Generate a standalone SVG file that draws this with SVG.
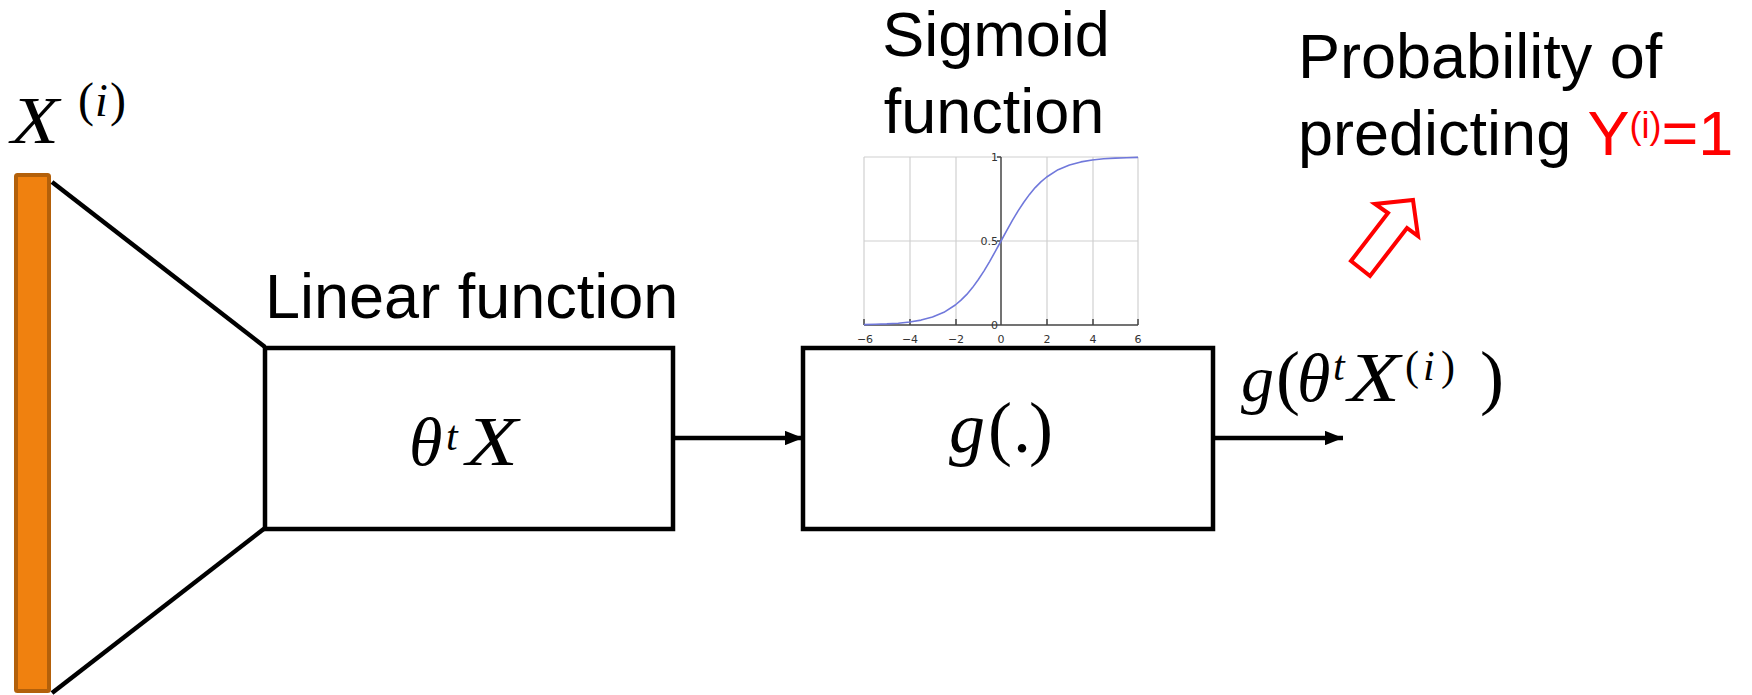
<svg xmlns="http://www.w3.org/2000/svg" width="1752" height="695" viewBox="0 0 1752 695">
<style>
.lbl{font-family:"Liberation Sans",Arial,sans-serif;font-size:63px;fill:#000}
.m{font-family:"Liberation Serif","Times New Roman",serif;fill:#000}
.mi{font-style:italic}
.box{fill:#fff;stroke:#000;stroke-width:4.5}
.edge{stroke:#000;stroke-width:4.5;fill:none}
.grid{stroke:#d0d0d0;stroke-width:1.2}
.ax{stroke:#444;stroke-width:1.5}
.tick{font-family:"DejaVu Sans",sans-serif;font-size:11px;fill:#333}
</style>
<defs>
<marker id="ah" viewBox="0 0 10 10" refX="10" refY="5" markerWidth="4" markerHeight="3.2" markerUnits="strokeWidth" orient="auto" preserveAspectRatio="none">
<path d="M0,0 L10,5 L0,10 z" fill="#000"/>
</marker>
</defs>
<g id="input">
<rect x="16" y="175" width="33" height="516" rx="1.5" fill="#F0810F" stroke="#B3600A" stroke-width="4"/>
<text class="m mi" x="11" y="143" font-size="68" textLength="48" lengthAdjust="spacingAndGlyphs">X</text>
<text class="m" x="78" y="116" font-size="48">(</text>
<text class="m mi" x="95" y="116" font-size="46">i</text>
<text class="m" x="110" y="116" font-size="48">)</text>
</g>
<g id="connectors">
<line class="edge" x1="52" y1="182" x2="265" y2="347"/>
<line class="edge" x1="52" y1="693" x2="265" y2="528"/>
<line class="edge" x1="673" y1="438" x2="803" y2="438" marker-end="url(#ah)"/>
<line class="edge" x1="1213" y1="438" x2="1343" y2="438" marker-end="url(#ah)"/>
</g>
<g id="linear">
<rect class="box" x="265" y="348" width="408" height="181"/>
<text class="lbl" x="265" y="318">Linear function</text>
<text class="m mi" x="409" y="465" font-size="68">θ</text>
<text class="m mi" x="446" y="450" font-size="42">t</text>
<text class="m mi" x="466" y="465" font-size="70" textLength="52" lengthAdjust="spacingAndGlyphs">X</text>
</g>
<g id="sigmoid">
<rect class="box" x="803" y="348" width="410" height="181"/>
<text class="m mi" x="949" y="452" font-size="72">g</text>
<text class="m" x="988" y="452" font-size="72">(</text>
<text class="m" x="1013" y="452" font-size="72">.</text>
<text class="m" x="1029" y="452" font-size="72">)</text>
<text class="lbl" x="996" y="56" text-anchor="middle">Sigmoid</text>
<text class="lbl" x="994" y="133" text-anchor="middle">function</text>
<g id="plot">
<g class="grid">
<line x1="864" y1="157" x2="864" y2="325"/>
<line x1="910" y1="157" x2="910" y2="325"/>
<line x1="956" y1="157" x2="956" y2="325"/>
<line x1="1047" y1="157" x2="1047" y2="325"/>
<line x1="1093" y1="157" x2="1093" y2="325"/>
<line x1="1138" y1="157" x2="1138" y2="325"/>
<line x1="864" y1="157" x2="1138" y2="157"/>
<line x1="864" y1="241" x2="1138" y2="241"/>
</g>
<g class="ax">
<line x1="864" y1="325" x2="1138" y2="325"/>
<line x1="1001" y1="157" x2="1001" y2="325"/>
<line x1="864" y1="325" x2="864" y2="319"/>
<line x1="910" y1="325" x2="910" y2="319"/>
<line x1="956" y1="325" x2="956" y2="319"/>
<line x1="1047" y1="325" x2="1047" y2="319"/>
<line x1="1093" y1="325" x2="1093" y2="319"/>
<line x1="1138" y1="325" x2="1138" y2="319"/>
<line x1="997" y1="157" x2="1001" y2="157"/>
<line x1="997" y1="241" x2="1001" y2="241"/>
</g>
<polyline fill="none" stroke="#7078DB" stroke-width="1.6" stroke-linejoin="round" points="864,324.6 875.4,324.3 886.8,323.9 898.3,323.2 909.7,322 921.1,320.1 932.5,317 943.9,312.3 955.3,305 961,300.1 966.8,294.4 972.5,287.6 978.2,279.8 983.9,271.1 989.6,261.6 995.3,251.4 1001,241 1006.7,230.6 1012.4,220.4 1018.1,210.9 1023.8,202.2 1029.5,194.4 1035.2,187.6 1040.9,181.9 1046.7,177 1058.1,169.7 1069.5,165 1080.9,161.9 1092.3,160 1103.7,158.8 1115.2,158.1 1126.6,157.7 1138,157.4"/>
<g class="tick" text-anchor="middle">
<text x="865" y="343">−6</text>
<text x="910" y="343">−4</text>
<text x="956" y="343">−2</text>
<text x="1001" y="343">0</text>
<text x="1047" y="343">2</text>
<text x="1093" y="343">4</text>
<text x="1138" y="343">6</text>
</g>
<g class="tick" text-anchor="end">
<text x="998" y="161">1</text>
<text x="998" y="245">0.5</text>
<text x="998" y="329">0</text>
</g>
</g>
</g>
<g id="output">
<text class="m mi" x="1241" y="401" font-size="66">g</text>
<text class="m" x="1276" y="401" font-size="72">(</text>
<text class="m mi" x="1297" y="401" font-size="68">θ</text>
<text class="m mi" x="1333" y="380" font-size="42">t</text>
<text class="m mi" x="1348" y="401" font-size="70" textLength="52" lengthAdjust="spacingAndGlyphs">X</text>
<text class="m" x="1405" y="380" font-size="42">(</text>
<text class="m mi" x="1423" y="380" font-size="42">i</text>
<text class="m" x="1441" y="380" font-size="42">)</text>
<text class="m" x="1480" y="401" font-size="72">)</text>
</g>
<g id="probability">
<text class="lbl" x="1298" y="78">Probability of</text>
<text class="lbl" x="1298" y="155">predicting <tspan fill="#FF0000">Y</tspan><tspan fill="#FF0000" font-size="36" dy="-17">(i)</tspan><tspan fill="#FF0000" dy="17">=1</tspan></text>
<polygon points="1413,200 1418,236 1407,228 1370,276 1351,261 1388,213 1375,204" fill="none" stroke="#FF0000" stroke-width="4"/>
</g>
</svg>
